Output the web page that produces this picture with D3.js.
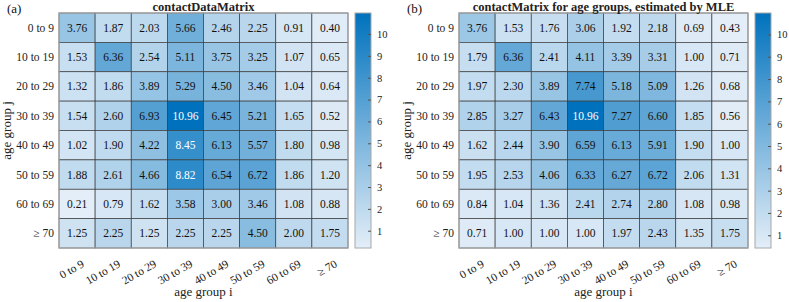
<!DOCTYPE html>
<html>
<head>
<meta charset="UTF-8">
</head>
<body style="margin:0">
<script src="https://cdnjs.cloudflare.com/ajax/libs/d3/7.8.5/d3.min.js"></script>
<script>

// age groups (same for rows j and columns i)
const ageGroups = ["0 to 9", "10 to 19", "20 to 29", "30 to 39", "40 to 49", "50 to 59", "60 to 69", "\u2265 70"]

// rows = age group j, columns = age group i
const contactDataMatrix = [
  [3.76, 1.87, 2.03, 5.66, 2.46, 2.25, 0.91, 0.40],
  [1.53, 6.36, 2.54, 5.11, 3.75, 3.25, 1.07, 0.65],
  [1.32, 1.86, 3.89, 5.29, 4.50, 3.46, 1.04, 0.64],
  [1.54, 2.60, 6.93, 10.96, 6.45, 5.21, 1.65, 0.52],
  [1.02, 1.90, 4.22, 8.45, 6.13, 5.57, 1.80, 0.98],
  [1.88, 2.61, 4.66, 8.82, 6.54, 6.72, 1.86, 1.20],
  [0.21, 0.79, 1.62, 3.58, 3.00, 3.46, 1.08, 0.88],
  [1.25, 2.25, 1.25, 2.25, 2.25, 4.50, 2.00, 1.75]
]

const contactMatrixMLE = [
  [3.76, 1.53, 1.76, 3.06, 1.92, 2.18, 0.69, 0.43],
  [1.79, 6.36, 2.41, 4.11, 3.39, 3.31, 1.00, 0.71],
  [1.97, 2.30, 3.89, 7.74, 5.18, 5.09, 1.26, 0.68],
  [2.85, 3.27, 6.43, 10.96, 7.27, 6.60, 1.85, 0.56],
  [1.62, 2.44, 3.90, 6.59, 6.13, 5.91, 1.90, 1.00],
  [1.95, 2.53, 4.06, 6.33, 6.27, 6.72, 2.06, 1.31],
  [0.84, 1.04, 1.36, 2.41, 2.74, 2.80, 1.08, 0.98],
  [0.71, 1.00, 1.00, 1.00, 1.97, 2.43, 1.35, 1.75]
]

const colorbarTicks = [1, 2, 3, 4, 5, 6, 7, 8, 9, 10]

const panels = [
  { label: "(a)", title: "contactDataMatrix", data: contactDataMatrix, offset: 0 },
  { label: "(b)", title: "contactMatrix for age groups, estimated by MLE", data: contactMatrixMLE, offset: 400 }
]

const FONT = "Liberation Serif"
const lightColor = "#e4eef8"
const darkColor = "#0072bd"

const svg = d3.select("body")
  .append("svg")
  .attr("width", 789)
  .attr("height", 302)

const defs = svg.append("defs")
const grad = defs.append("linearGradient")
  .attr("id", "cbGrad")
  .attr("x1", 0).attr("y1", 1).attr("x2", 0).attr("y2", 0)
grad.append("stop").attr("offset", "0%").attr("stop-color", lightColor)
grad.append("stop").attr("offset", "100%").attr("stop-color", darkColor)

// dimensions of one panel (relative to its offset)
const dims = { left: 59, right: 348, top: 13, bottom: 248, cbLeft: 355, cbRight: 371 }

// small helper so every label gets the same serif font
function label(sel, size) {
  return sel.style("font-family", FONT).attr("font-size", size)
}

panels.forEach(function(p) {
  const g = svg.append("g").attr("transform", "translate(" + p.offset + ",0)")
  const flat = p.data.flat()
  const vmin = d3.min(flat), vmax = d3.max(flat)

  const xScale = d3.scaleBand().domain(ageGroups).range([dims.left, dims.right])
  const yScale = d3.scaleBand().domain(ageGroups).range([dims.top, dims.bottom])
  const colorScale = d3.scaleLinear().domain([vmin, vmax]).range([lightColor, darkColor])

  const cells = []
  p.data.forEach(function(row, j) {
    row.forEach(function(v, i) { cells.push({ i: ageGroups[i], j: ageGroups[j], v: v }) })
  })

  // cells
  g.selectAll("rect.cell")
    .data(cells)
    .join("rect")
    .attr("class", "cell")
    .attr("x", d => xScale(d.i))
    .attr("y", d => yScale(d.j))
    .attr("width", xScale.bandwidth())
    .attr("height", yScale.bandwidth())
    .attr("fill", d => colorScale(d.v))
    .attr("stroke", "#3c3c3c")
    .attr("stroke-width", 0.7)

  // outer frame
  g.append("rect")
    .attr("x", dims.left).attr("y", dims.top)
    .attr("width", dims.right - dims.left).attr("height", dims.bottom - dims.top)
    .attr("fill", "none").attr("stroke", "#a8a8a8").attr("stroke-width", 1.2)

  // cell values
  g.selectAll("text.val")
    .data(cells)
    .join("text")
    .attr("class", "val")
    .attr("x", d => xScale(d.i) + xScale.bandwidth() / 2)
    .attr("y", d => yScale(d.j) + yScale.bandwidth() / 2)
    .attr("dy", "0.35em")
    .attr("text-anchor", "middle")
    .call(label, 11.5)
    .attr("fill", d => ((d.v - vmin) / (vmax - vmin) > 0.72 ? "#fff" : "#111"))
    .text(d => d.v.toFixed(2))

  // y tick labels
  g.selectAll("text.ylab")
    .data(ageGroups)
    .join("text")
    .attr("class", "ylab")
    .attr("x", dims.left - 5)
    .attr("y", d => yScale(d) + yScale.bandwidth() / 2)
    .attr("dy", "0.35em")
    .attr("text-anchor", "end")
    .call(label, 11.5)
    .attr("fill", "#222")
    .text(d => d)

  // x tick labels (rotated)
  g.selectAll("text.xlab")
    .data(ageGroups)
    .join("text")
    .attr("class", "xlab")
    .attr("transform", d => "translate(" + (xScale(d) + xScale.bandwidth() / 2 + 8) + "," + (dims.bottom + 18) + ") rotate(-30)")
    .attr("text-anchor", "end")
    .call(label, 11.5)
    .attr("fill", "#222")
    .text(d => d)

  // axis titles
  g.append("text")
    .attr("x", (dims.left + dims.right) / 2)
    .attr("y", 296)
    .attr("text-anchor", "middle")
    .call(label, 13)
    .attr("fill", "#222")
    .text("age group i")

  g.append("text")
    .attr("transform", "translate(11," + (dims.top + dims.bottom) / 2 + ") rotate(-90)")
    .attr("text-anchor", "middle")
    .call(label, 13)
    .attr("fill", "#222")
    .text("age group j")

  // title and panel label
  g.append("text")
    .attr("x", (dims.left + dims.right) / 2)
    .attr("y", 10.5)
    .attr("text-anchor", "middle")
    .call(label, 12.5)
    .attr("font-weight", "bold")
    .attr("fill", "#222")
    .text(p.title)

  g.append("text")
    .attr("x", 7)
    .attr("y", 13)
    .call(label, 13)
    .attr("fill", "#111")
    .text(p.label)

  // colorbar
  g.append("rect")
    .attr("x", dims.cbLeft).attr("y", dims.top)
    .attr("width", dims.cbRight - dims.cbLeft).attr("height", dims.bottom - dims.top)
    .attr("fill", "url(#cbGrad)")
    .attr("stroke", "#a8a8a8").attr("stroke-width", 1)

  const cbScale = d3.scaleLinear().domain([vmin, vmax]).range([dims.bottom, dims.top])
  const cbAxis = d3.axisRight(cbScale)
    .tickValues(colorbarTicks)
    .tickSizeInner(-3)
    .tickSizeOuter(0)
    .tickPadding(6)
    .tickFormat(d3.format("d"))

  const cbG = g.append("g")
    .attr("transform", "translate(" + dims.cbRight + ",0)")
    .call(cbAxis)
  cbG.attr("font-family", null).attr("font-size", null)
  cbG.select(".domain").remove()
  cbG.selectAll(".tick line").attr("stroke", "#555")
  cbG.selectAll(".tick text")
    .call(label, 10.5)
    .attr("fill", "#222")
})

</script>
</body>
</html>
